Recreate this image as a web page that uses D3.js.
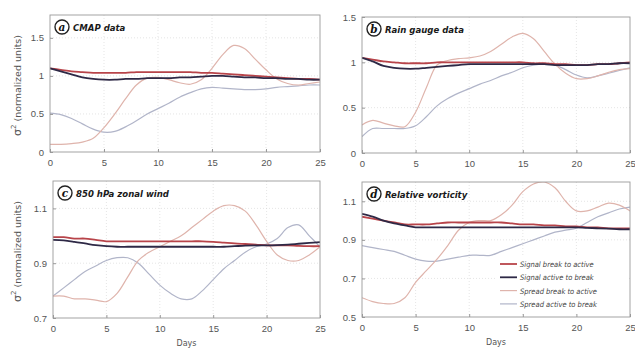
<!DOCTYPE html>
<html>
<head>
<meta charset="utf-8">
<script src="https://cdn.jsdelivr.net/npm/d3@7"></script>
<style>
  body { margin: 0; background: #fff; }
  svg { display: block; font-family: "DejaVu Sans", sans-serif; }
</style>
</head>
<body>
<div id="app"></div>
<script>
const days = d3.range(0, 26);

const seriesNames = [
  "Signal break to active",
  "Signal active to break",
  "Spread break to active",
  "Spread active to break",
];

// CMAP data
const aSigBA = [1.10,1.08,1.06,1.05,1.04,1.04,1.04,1.04,1.05,1.05,1.05,1.05,1.05,1.05,1.04,1.04,1.03,1.02,1.01,1.00,0.99,0.98,0.97,0.96,0.96,0.95];
const aSigAB = [1.10,1.06,1.02,0.98,0.96,0.95,0.95,0.96,0.96,0.97,0.97,0.97,0.98,0.98,0.99,1.00,1.00,0.99,0.98,0.98,0.97,0.97,0.96,0.96,0.95,0.95];
const aSprBA = [0.10,0.10,0.11,0.13,0.18,0.32,0.50,0.70,0.88,0.97,0.98,0.95,0.91,0.89,0.95,1.10,1.28,1.40,1.36,1.22,1.08,0.96,0.90,0.88,0.90,0.92];
const aSprAB = [0.51,0.49,0.44,0.37,0.30,0.26,0.27,0.33,0.41,0.50,0.57,0.64,0.72,0.78,0.83,0.85,0.84,0.83,0.82,0.82,0.83,0.85,0.86,0.87,0.88,0.88];

// Rain gauge data
const bSigBA = [1.05,1.03,1.01,1.00,0.99,0.99,0.99,1.00,1.00,1.00,1.00,1.00,1.00,1.00,1.00,1.00,0.99,0.99,0.98,0.98,0.97,0.97,0.98,0.98,0.99,1.00];
const bSigAB = [1.05,1.01,0.96,0.94,0.93,0.93,0.94,0.95,0.96,0.97,0.98,0.98,0.98,0.98,0.98,0.98,0.98,0.98,0.97,0.97,0.97,0.97,0.98,0.98,0.99,0.99];
const bSprBA = [0.31,0.36,0.33,0.30,0.29,0.45,0.72,0.97,1.02,1.04,1.05,1.07,1.12,1.20,1.28,1.32,1.26,1.12,0.98,0.88,0.82,0.82,0.85,0.89,0.92,0.93];
const bSprAB = [0.18,0.27,0.27,0.27,0.27,0.30,0.40,0.52,0.60,0.66,0.71,0.76,0.80,0.85,0.89,0.94,0.97,0.98,0.97,0.92,0.86,0.83,0.85,0.88,0.91,0.94];

// 850 hPa zonal wind
const cSigBA = [0.995,0.995,0.99,0.99,0.985,0.98,0.98,0.98,0.98,0.98,0.98,0.98,0.98,0.98,0.98,0.978,0.975,0.972,0.97,0.968,0.965,0.965,0.965,0.963,0.962,0.962];
const cSigAB = [0.985,0.983,0.978,0.972,0.966,0.962,0.96,0.96,0.96,0.96,0.96,0.96,0.96,0.96,0.96,0.96,0.96,0.962,0.964,0.965,0.965,0.966,0.968,0.971,0.974,0.977];
const cSprBA = [0.78,0.78,0.77,0.77,0.765,0.76,0.79,0.85,0.91,0.94,0.96,0.98,1.00,1.03,1.06,1.09,1.11,1.11,1.09,1.04,0.98,0.93,0.91,0.91,0.93,0.96];
const cSprAB = [0.78,0.81,0.84,0.87,0.89,0.91,0.92,0.92,0.90,0.86,0.82,0.79,0.77,0.77,0.80,0.84,0.88,0.91,0.94,0.96,0.97,0.99,1.03,1.04,1.00,0.96];

// Relative vorticity
const dSigBA = [1.02,1.01,1.00,0.99,0.98,0.98,0.98,0.985,0.99,0.99,0.99,0.99,0.99,0.99,0.985,0.98,0.98,0.975,0.975,0.97,0.97,0.965,0.965,0.96,0.96,0.96];
const dSigAB = [1.035,1.02,1.00,0.985,0.975,0.965,0.965,0.965,0.965,0.965,0.965,0.965,0.965,0.965,0.965,0.965,0.965,0.965,0.965,0.965,0.965,0.962,0.96,0.958,0.955,0.955];
const dSprBA = [0.60,0.58,0.57,0.57,0.60,0.68,0.74,0.80,0.87,0.95,0.99,1.00,1.00,1.03,1.08,1.15,1.19,1.20,1.17,1.10,1.05,1.05,1.07,1.09,1.08,1.05];
const dSprAB = [0.87,0.86,0.85,0.84,0.82,0.80,0.79,0.79,0.80,0.81,0.82,0.82,0.82,0.84,0.86,0.88,0.90,0.92,0.94,0.95,0.96,0.99,1.02,1.04,1.06,1.07];

const xTicks = [0, 5, 10, 15, 20, 25];
const aTicks = [0, 0.5, 1, 1.5];
const bTicks = [0, 0.5, 1, 1.5];
const cTicks = [0.7, 0.9, 1.1];
const dTicks = [0.5, 0.7, 0.9, 1.1];

const colors = ["#b8444a", "#2e2946", "#dfb4ac", "#b1b5c9"];
const widths = [1.8, 1.8, 1.2, 1.2];
// spreads underneath, signals on top
const drawOrder = [3, 2, 0, 1];

const panels = [
  { letter: "a", title: "CMAP data", box: [50, 320, 15, 152], domain: [0, 1.8], ticks: aTicks, fmt: d3.format("~g"),
    series: [aSigBA, aSigAB, aSprBA, aSprAB], ylabel: true },
  { letter: "b", title: "Rain gauge data", box: [362, 630, 17, 153], domain: [0, 1.5], ticks: bTicks, fmt: d3.format("~g"),
    series: [bSigBA, bSigAB, bSprBA, bSprAB] },
  { letter: "c", title: "850 hPa zonal wind", box: [53, 320, 181, 318], domain: [0.7, 1.2], ticks: cTicks, fmt: d3.format(".1f"),
    series: [cSigBA, cSigAB, cSprBA, cSprAB], ylabel: true, xlabel: true },
  { letter: "d", title: "Relative vorticity", box: [362, 630, 182, 317], domain: [0.5, 1.2], ticks: dTicks, fmt: d3.format(".1f"),
    series: [dSigBA, dSigAB, dSprBA, dSprAB], xlabel: true, legend: true },
];

const width = 635;
const height = 354;

const svg = d3
  .select("#app")
  .append("svg")
  .attr("width", width)
  .attr("height", height);

panels.forEach((p, pi) => {
  const [x0, x1, y0, y1] = p.box;
  const x = d3.scaleLinear().domain([0, 25]).range([x0, x1]);
  const y = d3.scaleLinear().domain(p.domain).range([y1, y0]);

  const g = svg.append("g");

  // dotted grid
  g.append("g")
    .selectAll("line")
    .data(xTicks.slice(1, -1))
    .join("line")
    .attr("x1", (d) => x(d)).attr("x2", (d) => x(d))
    .attr("y1", y0).attr("y2", y1)
    .attr("stroke", "#d4d4d4").attr("stroke-width", 0.6)
    .attr("stroke-dasharray", "1,2");
  g.append("g")
    .selectAll("line")
    .data(p.ticks.filter((t) => t > p.domain[0] && t < p.domain[1]))
    .join("line")
    .attr("x1", x0).attr("x2", x1)
    .attr("y1", (d) => y(d)).attr("y2", (d) => y(d))
    .attr("stroke", "#d4d4d4").attr("stroke-width", 0.6)
    .attr("stroke-dasharray", "1,2");

  const clipId = "clip" + pi;
  svg.append("clipPath").attr("id", clipId)
    .append("rect").attr("x", x0).attr("y", y0).attr("width", x1 - x0).attr("height", y1 - y0);

  const line = d3.line()
    .x((d, i) => x(days[i]))
    .y((d) => y(d))
    .curve(d3.curveCatmullRom);

  const lines = g.append("g").attr("clip-path", `url(#${clipId})`);
  drawOrder.forEach((k) => {
    lines.append("path")
      .datum(p.series[k])
      .attr("d", line)
      .attr("fill", "none")
      .attr("stroke", colors[k])
      .attr("stroke-width", widths[k]);
  });

  // axes with inward ticks, matlab style
  g.append("g")
    .attr("transform", `translate(0,${y1})`)
    .call(d3.axisBottom(x).tickValues(xTicks).tickSizeInner(-3).tickSizeOuter(0).tickPadding(7))
    .call((a) => a.select(".domain").remove())
    .call((a) => a.selectAll("line").attr("stroke", "#999"))
    .call((a) => a.selectAll("text").attr("fill", "#555").style("font-size", "9.5px"));

  g.append("g")
    .attr("transform", `translate(${x0},0)`)
    .call(d3.axisLeft(y).tickValues(p.ticks).tickFormat(p.fmt).tickSizeInner(-3).tickSizeOuter(0).tickPadding(6))
    .call((a) => a.select(".domain").remove())
    .call((a) => a.selectAll("line").attr("stroke", "#999"))
    .call((a) => a.selectAll("text").attr("fill", "#555").style("font-size", "9.5px"));

  g.append("rect")
    .attr("x", x0).attr("y", y0)
    .attr("width", x1 - x0).attr("height", y1 - y0)
    .attr("fill", "none")
    .attr("stroke", "#9a9a9a")
    .attr("stroke-width", 0.9);

  // panel letter in a circle + title
  g.append("circle")
    .attr("cx", x0 + 12).attr("cy", y0 + 12).attr("r", 7)
    .attr("fill", "#fff").attr("stroke", "#222").attr("stroke-width", 1.4);
  g.append("text")
    .attr("x", x0 + 12).attr("y", y0 + 15.5)
    .attr("text-anchor", "middle")
    .style("font-family", "'DejaVu Serif', serif")
    .style("font-style", "italic").style("font-weight", "bold")
    .style("font-size", "10.5px").attr("fill", "#111")
    .text(p.letter);
  g.append("text")
    .attr("x", x0 + 23).attr("y", y0 + 16)
    .style("font-style", "italic").style("font-weight", "bold")
    .style("font-family", "'DejaVu Sans Condensed', 'Liberation Sans Narrow', sans-serif")
    .style("font-size", "9.5px").attr("fill", "#1a1a1a")
    .text(p.title);

  if (p.ylabel) {
    const yl = g.append("text")
      .attr("transform", `translate(21,${(y0 + y1) / 2 + 2}) rotate(-90)`)
      .attr("text-anchor", "middle")
      .attr("fill", "#555")
      .style("font-size", "9.5px");
    yl.append("tspan").style("font-size", "11px").text("σ");
    yl.append("tspan").attr("dy", -5).style("font-size", "7px").text("2");
    yl.append("tspan").attr("dy", 5).text(" (normalized units)");
  }

  if (p.xlabel) {
    g.append("text")
      .attr("x", (x0 + x1) / 2).attr("y", y1 + 28)
      .attr("text-anchor", "middle")
      .attr("fill", "#555")
      .style("font-size", "8px")
      .text("Days");
  }

  if (p.legend) {
    const lg = g.append("g").attr("transform", `translate(497,256)`);
    lg.append("rect").attr("width", 131).attr("height", 56).attr("fill", "#fff");
    seriesNames.forEach((name, i) => {
      const yy = 8 + i * 13.3;
      lg.append("line")
        .attr("x1", 3).attr("x2", 20).attr("y1", yy).attr("y2", yy)
        .attr("stroke", colors[i]).attr("stroke-width", widths[i]);
      lg.append("text")
        .attr("x", 23).attr("y", yy + 3)
        .style("font-family", "'DejaVu Sans Condensed', 'Liberation Sans Narrow', sans-serif")
        .style("font-style", "italic")
        .style("font-size", "7.5px").attr("fill", "#444")
        .text(name);
    });
  }
});
</script>
</body>
</html>
